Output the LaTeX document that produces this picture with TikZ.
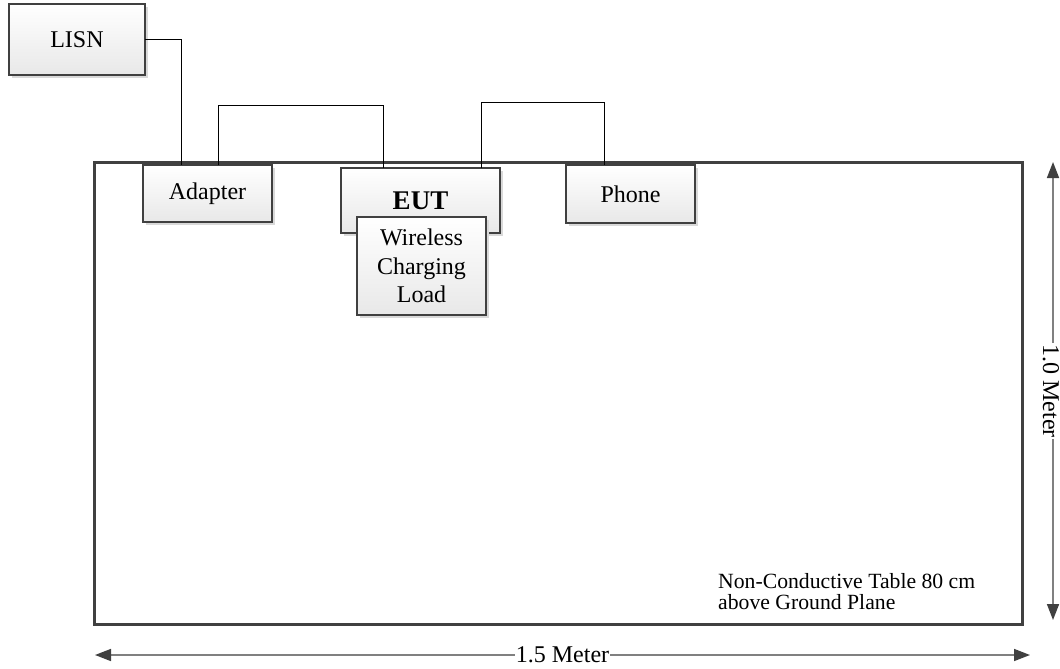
\documentclass[tikz,border=0pt]{standalone}
\usepackage{fontspec}
\setmainfont{Liberation Serif}
\usetikzlibrary{calc,shadows,arrows.meta}
\tikzset{
  box/.style={draw=black!75, line width=1.6pt, top color=white, bottom color=black!9,
    inner sep=0pt, outer sep=0pt, align=center,
    font=\fontsize{24}{28.5}\selectfont,
    drop shadow={shadow xshift=3pt, shadow yshift=-3pt, fill=black!15, opacity=1}},
  wire/.style={draw=black, line width=0.9pt},
  dim/.style={draw=black!50, line width=1.6pt,
    {Triangle[length=16pt,width=12pt,color=black!75]}-{Triangle[length=16pt,width=12pt,color=black!75]}},
  dimlabel/.style={fill=white, inner sep=1pt, font=\fontsize{24}{26}\selectfont},
}
\begin{document}
\begin{tikzpicture}[x=1pt,y=-1pt]
\useasboundingbox (0,0) rectangle (1060,669);
% table
\node[draw=black!75, line width=3pt, minimum width=928pt, minimum height=462pt, inner sep=0pt, outer sep=0pt,
  drop shadow={shadow xshift=2pt, shadow yshift=-2pt, fill=black!12, opacity=1}, fill=white]
  (table) at (558,393) {};
% boxes
\node[box, minimum width=136pt, minimum height=71pt] (lisn) at (77,39.5) {LISN};
\node[box, minimum width=129pt, minimum height=57pt] (adapter) at (207.5,193.5) {Adapter};
\node[box, minimum width=159pt, minimum height=65pt, font=\fontsize{27}{30}\selectfont\bfseries] (eut) at (420.5,200.5) {EUT};
\node[box, minimum width=129pt, minimum height=98pt] (wcl) at (421.5,266) {Wireless\\Charging\\Load};
\node[box, minimum width=129pt, minimum height=58pt] (phone) at (630.5,194) {Phone};
% wires
\draw[wire] (lisn.east) -| ($(adapter.north west)+(38,0)$);
\draw[wire] ($(adapter.north west)+(75,0)$) -- ++(0,-60) -| ($(eut.north west)+(42,0)$);
\draw[wire] ($(eut.north west)+(140,0)$) -- ++(0,-66) -| ($(phone.north west)+(38,0)$);
% dimensions
\coordinate (vt) at (1053,162);
\coordinate (vb) at (1053,620);
\draw[dim] (vt) -- (vb) node[midway, dimlabel, rotate=-90, yshift=-2pt] (vlab) {1.0 Meter};
\coordinate (hl) at (95,655);
\coordinate (hr) at (1030,655);
\draw[dim] (hl) -- (hr) node[midway, dimlabel] (hlab) {1.5 Meter};
% note
\node[anchor=north west, align=left, inner sep=0pt, font=\fontsize{21.7}{21}\selectfont] (note) at (718,573)
  {Non-Conductive Table 80 cm\\above Ground Plane};
\end{tikzpicture}
\end{document}
